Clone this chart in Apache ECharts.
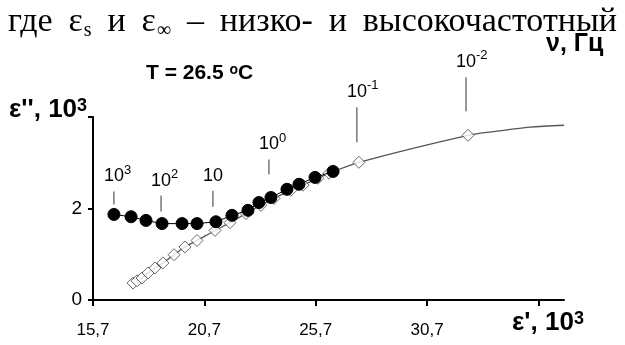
<!DOCTYPE html>
<html><head><meta charset="utf-8">
<script src="https://cdn.jsdelivr.net/npm/echarts@6/dist/echarts.min.js"></script>
<style>html,body{margin:0;padding:0;background:#fff}#c{width:625px;height:345px}</style>
</head><body><div id="c"></div><script>
// measured ε' (x, 10^3) and ε'' (y, 10^3)
const circleX = [16.64,17.41,18.08,18.80,19.70,20.37,21.22,21.94,22.66,23.15,23.69,24.41,24.95,25.67,26.48];
const circleY = [1.87,1.82,1.74,1.67,1.67,1.67,1.71,1.85,1.96,2.13,2.24,2.42,2.53,2.68,2.81];
// model (Cole-Cole) points
const diamondX = [17.50,17.68,17.90,18.17,18.48,18.84,19.34,19.83,20.37,21.18,21.85,22.57,23.24,23.83,24.59,25.13,25.80,26.30,27.64,32.54];
const diamondY = [0.37,0.42,0.48,0.59,0.70,0.81,0.99,1.16,1.30,1.52,1.69,1.89,2.07,2.22,2.40,2.51,2.66,2.77,3.01,3.60];
// continuation of model curve beyond last marked point
const curveTailX = [33.84,35.32,36.85];
const curveTailY = [3.69,3.78,3.82];
const xTicks = [15.7,20.7,25.7,30.7,35.7];
const xTickLabels = ['15,7','20,7','25,7','30,7',''];
const yTicks = [0,2,4];
const yTickLabels = ['0','2',''];
// frequency annotations: base, exponent, series ('c' circles / 'd' diamonds), point index
const freqBase = ['10','10','10','10','10','10'];
const freqExp = ['3','2','','0','-1','-2'];
const freqSeries = ['c','c','c','c','d','d'];
const freqIndex = [0,3,6,10,18,19];
// heading line words (main text, subscript)
const headMain = ['где','ε','и','ε','–','низко-','и','высокочастотный'];
const headSub  = ['','s','','∞','','','',''];

// annotation pixel styling (lift of the leader line above the point)
const annStyle = [
  {dx:0, lo:10, hi:23},
  {dx:-1, lo:12, hi:28},
  {dx:-3, lo:15, hi:31},
  {dx:-2, lo:23, hi:38},
  {dx:-2, lo:20, hi:55},
  {dx:-2, lo:24, hi:58}
];

const circles = circleX.map((x,i)=>[x,circleY[i]]);
const diamonds = diamondX.map((x,i)=>[x,diamondY[i]]);
const curve = diamonds.concat(curveTailX.map((x,i)=>[x,curveTailY[i]]));
const annData = freqBase.map((b,i)=>{
  const src = freqSeries[i]==='c'?circles:diamonds;
  const p = src[freqIndex[i]];
  return [p[0],p[1],i];
});

const SANS = '"Liberation Sans", Arial, sans-serif';
const SERIF = '"Liberation Serif", "Times New Roman", serif';

// justified heading layout
const HF = 34, SF = 20, HL = 8, HR = 617, HY = 22;
const cv = document.createElement('canvas').getContext('2d');
function mw(t, f){ cv.font = f+'px '+SERIF; return cv.measureText(t).width; }
const wMain = headMain.map(t=>mw(t,HF));
const wSub = headSub.map(t=>t?mw(t,SF)+1:0);
const total = wMain.reduce((a,b)=>a+b,0)+wSub.reduce((a,b)=>a+b,0);
const gap = (HR-HL-total)/(headMain.length-1);
const headEls = [];
let cx = HL;
headMain.forEach((t,i)=>{
  headEls.push({type:'text', x:cx, y:HY, style:{text:t, fill:'#000', font:HF+'px '+SERIF, align:'left', verticalAlign:'middle'}});
  cx += wMain[i];
  if (headSub[i]) {
    headEls.push({type:'text', x:cx+1, y:HY+9, style:{text:headSub[i], fill:'#000', font:SF+'px '+SERIF, align:'left', verticalAlign:'middle'}});
    cx += wSub[i];
  }
  cx += gap;
});

const chart = echarts.init(document.getElementById('c'), null, {renderer:'canvas'});
chart.setOption({
  animation:false,
  backgroundColor:'#fff',
  grid:{left:93, right:61, top:117, bottom:45, containLabel:false},
  xAxis:{
    type:'value', min:15.7, max:36.85,
    axisLine:{lineStyle:{color:'#000', width:2}},
    axisTick:{show:true, customValues:xTicks, length:6, lineStyle:{color:'#000', width:2}},
    axisLabel:{customValues:xTicks, formatter:(v)=>{const i=xTicks.findIndex(t=>Math.abs(t-v)<1e-6);return i>=0?xTickLabels[i]:'';},
      color:'#000', fontFamily:SANS, fontSize:17, margin:22},
    splitLine:{show:false}
  },
  yAxis:{
    type:'value', min:0, max:4, interval:2,
    axisLine:{show:true, lineStyle:{color:'#000', width:2}},
    axisTick:{show:true, length:5, lineStyle:{color:'#000', width:2}},
    axisLabel:{formatter:(v)=>{const i=yTicks.indexOf(v);return i>=0?yTickLabels[i]:'';},
      color:'#000', fontFamily:SANS, fontSize:19, margin:11},
    splitLine:{show:false}
  },
  series:[
    {type:'line', data:curve, smooth:0.3, showSymbol:false, symbol:'none',
     lineStyle:{color:'#555', width:1.3}, z:1},
    {type:'scatter', data:diamonds, symbol:'diamond', symbolSize:12,
     itemStyle:{color:'#fff', borderColor:'#444', borderWidth:1}, z:2},
    {type:'line', data:circles, symbol:'circle', symbolSize:12, showSymbol:true,
     lineStyle:{color:'#000', width:1}, itemStyle:{color:'#000', borderColor:'#000'}, z:3},
    {type:'custom', data:annData, z:4, clip:false,
     renderItem:(params, api)=>{
       const i = api.value(2);
       const p = api.coord([api.value(0), api.value(1)]);
       const s = annStyle[i];
       const x = p[0]+s.dx;
       const children = [
         {type:'line', shape:{x1:x, y1:p[1]-s.lo, x2:x, y2:p[1]-s.hi}, style:{stroke:'#333', lineWidth:1}},
         {type:'text', x:x, y:p[1]-s.hi-6, style:{text:freqBase[i], fill:'#000', font:'18px '+SANS, align:'center', verticalAlign:'bottom'}}
       ];
       if (freqExp[i]) children.push({type:'text', x:x+10, y:p[1]-s.hi-15, style:{text:freqExp[i], fill:'#000', font:'13px '+SANS, align:'left', verticalAlign:'bottom'}});
       return {type:'group', children};
     }}
  ],
  graphic:[
    {type:'group', children:headEls},
    {type:'text', left:146, top:63, style:{
      text:'{a|T = 26.5 }{s|o}{a|C}',
      rich:{a:{fontFamily:SANS, fontWeight:'bold', fontSize:21, fill:'#000', verticalAlign:'bottom'}, s:{fontFamily:SANS, fontWeight:'bold', fontSize:14, fill:'#000', verticalAlign:'top'}}}},
    {type:'text', left:546, top:32, style:{
      text:'ν, Гц', fontFamily:SANS, fontWeight:'bold', fontSize:25, fill:'#000'}},
    {type:'text', left:9, top:97, style:{
      text:"{a|ε'', 10}{s|3}",
      rich:{a:{fontFamily:SANS, fontWeight:'bold', fontSize:26, fill:'#000', verticalAlign:'bottom'}, s:{fontFamily:SANS, fontWeight:'bold', fontSize:18, fill:'#000', verticalAlign:'top'}}}},
    {type:'text', left:512, top:310, style:{
      text:"{a|ε', 10}{s|3}",
      rich:{a:{fontFamily:SANS, fontWeight:'bold', fontSize:26, fill:'#000', verticalAlign:'bottom'}, s:{fontFamily:SANS, fontWeight:'bold', fontSize:18, fill:'#000', verticalAlign:'top'}}}}
  ]
});
</script></body></html>
